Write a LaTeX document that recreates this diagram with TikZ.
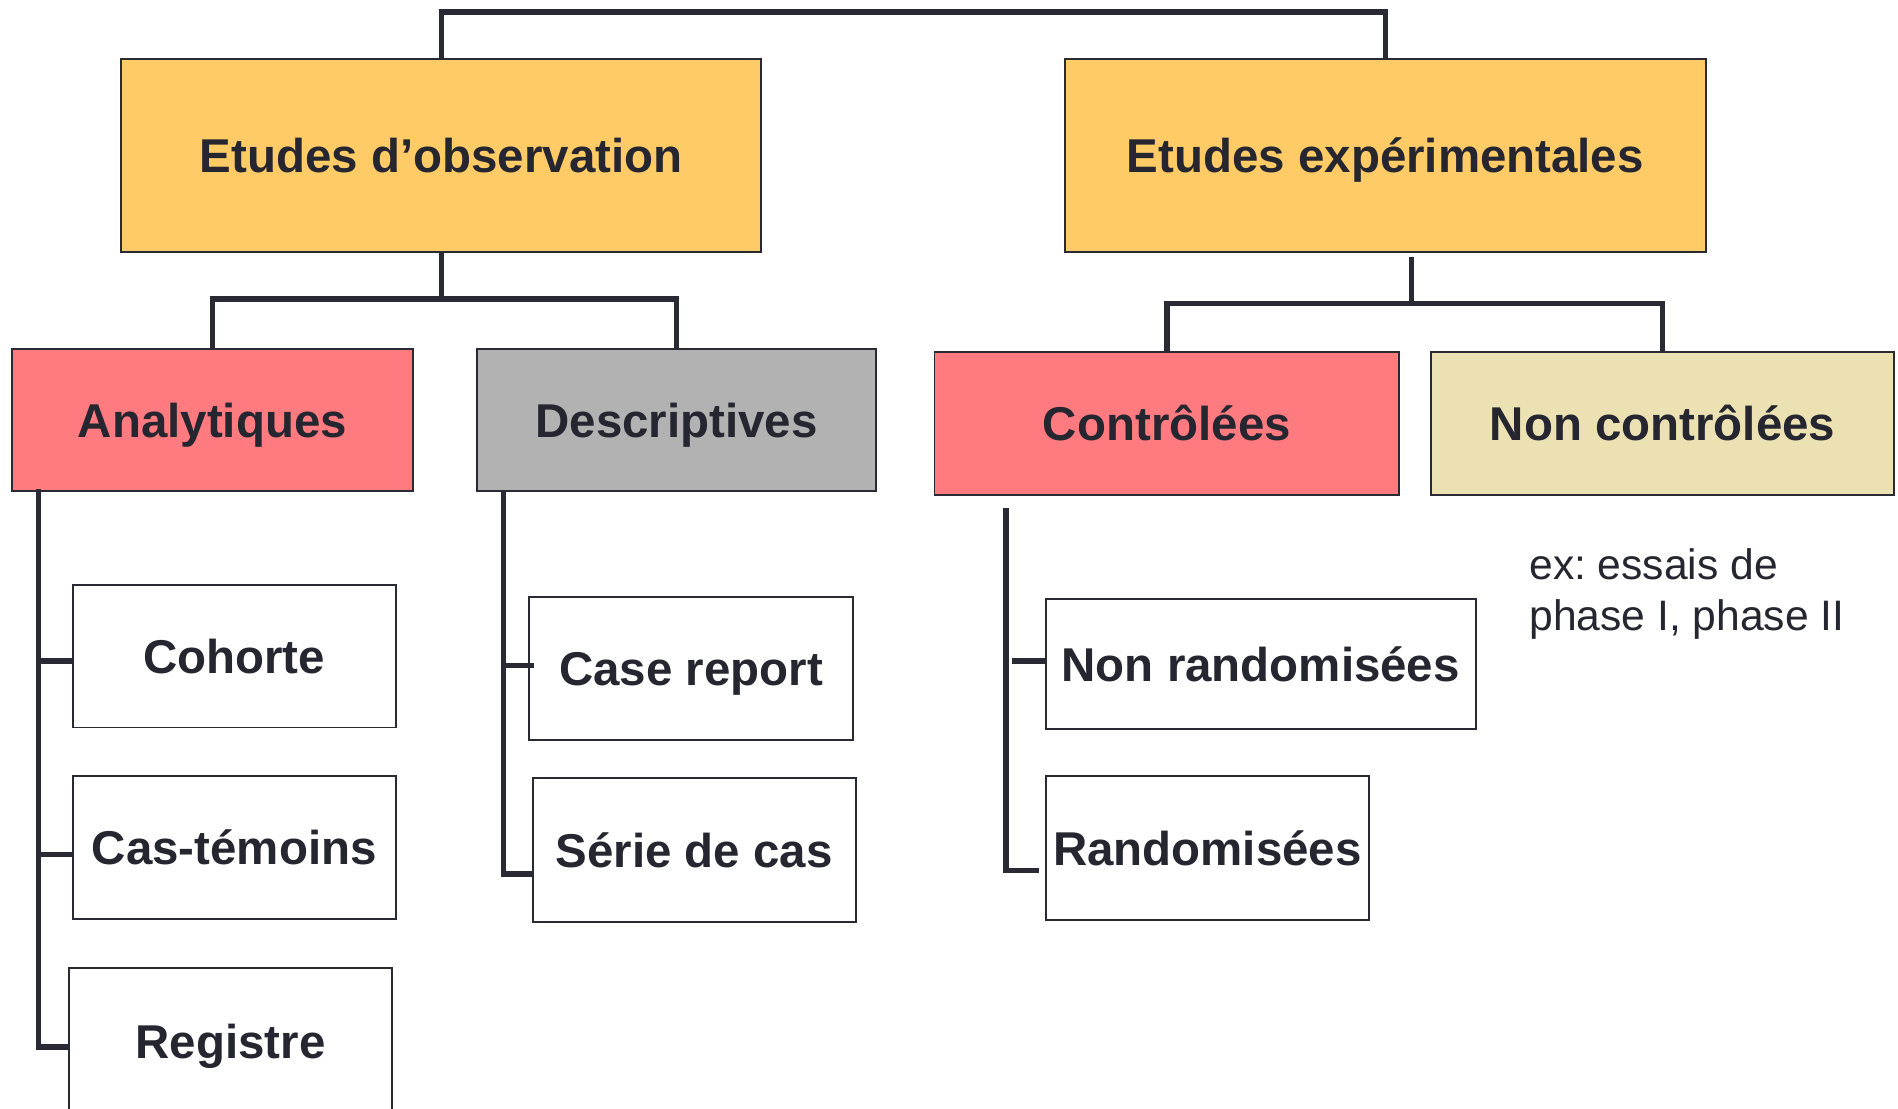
\documentclass[tikz,border=0pt]{standalone}
\usepackage{fontspec}
\setmainfont{Liberation Sans}
\usetikzlibrary{calc}
\definecolor{cyell}{HTML}{FECB66}
\definecolor{cpink}{HTML}{FF7B80}
\definecolor{cgray}{HTML}{B2B2B2}
\definecolor{cbeige}{HTML}{EBE1B2}
\definecolor{cline}{HTML}{2A2A35}
\definecolor{ctext}{HTML}{262630}
\tikzset{
  box/.style={draw=cline, line width=0.8pt, inner sep=0pt, outer sep=0pt,
    text=ctext, font=\fontsize{19.6}{23}\selectfont\bfseries, align=center,
    text height=14.2pt, text depth=0pt},
  conn/.style={draw=cline, line width=2.2pt},
  note/.style={text=ctext, font=\fontsize{17.6}{21}\selectfont\frenchspacing, align=left, anchor=north west, inner sep=0pt}
}
\begin{document}
\begin{tikzpicture}[x=0.5pt,y=-0.5pt]
\useasboundingbox[fill=white] (0,0) rectangle (1568,916);
% level 1
\node[box, fill=cyell, minimum width=264.5pt, minimum height=79.5pt] (obs) at (364.5,128.5) {Etudes d’observation};
\node[box, fill=cyell, minimum width=264.5pt, minimum height=79.5pt] (exp) at (1144.5,128.5) {Etudes expérimentales};
% level 2
\node[box, fill=cpink, minimum width=165.5pt, minimum height=59pt] (ana) at (175.5,347) {Analytiques};
\node[box, fill=cgray, minimum width=165pt, minimum height=59pt] (desc) at (559,347) {Descriptives};
\node[box, fill=cpink, minimum width=192pt, minimum height=59pt] (ctrl) at (964,350) {Contrôlées};
\node[box, fill=cbeige, minimum width=191.5pt, minimum height=59pt] (nctrl) at (1373.5,350) {Non contrôlées};
% level 3
\node[box, fill=white, minimum width=133.5pt, minimum height=59pt] (coh) at (193.5,542) {Cohorte};
\node[box, fill=white, minimum width=133.5pt, minimum height=59pt] (cas) at (193.5,700) {Cas-témoins};
\node[box, fill=white, minimum width=133.5pt, minimum height=60pt] (reg) at (190.5,860) {Registre};
\node[box, fill=white, minimum width=134pt, minimum height=59pt] (cr) at (571,552) {Case report};
\node[box, fill=white, minimum width=133.5pt, minimum height=59.5pt] (ser) at (573.5,702.5) {Série de cas};
\node[box, fill=white, minimum width=177.5pt, minimum height=53.5pt] (nr) at (1041.5,548.5) {Non randomisées};
\node[box, fill=white, minimum width=133.5pt, minimum height=59.5pt] (rd) at (997.5,700.5) {Randomisées};
% note
\node[note] (ex) at (1263,453) {ex: essais de\\phase I, phase II};
% coordinates
\coordinate (top) at (0,10);
\coordinate (j1) at (364.5,247);
\coordinate (e1) at (1166,212);
\coordinate (e2) at (1166,251);
\coordinate (a0) at (32,404);
\coordinate (d0) at (416,406);
\coordinate (c0) at (831,420);
\coordinate (ct) at (836,546);
\coordinate (tcoh) at ($(coh.west)+(0,4)$);
\coordinate (tcas) at ($(cas.west)+(0,6)$);
\coordinate (treg) at ($(reg.west)+(0,5)$);
\coordinate (tcr) at ($(cr.west)+(4,-2)$);
\coordinate (tser) at ($(ser.west)+(1,19.5)$);
\coordinate (trd) at ($(rd.west)+(-6,18.5)$);
% connectors
\draw[conn] (obs.north) -- (obs.north |- top) -| (exp.north);
\draw[conn] (obs.south) -- (j1);
\draw[conn] (ana.north) |- (j1) -| (desc.north);
\draw[conn] (e1) -- (e2);
\draw[conn] (ctrl.north) |- (e2) -| (nctrl.north);
% analytiques tree
\draw[conn] (a0) |- (treg);
\draw[conn] (a0 |- tcoh) -- (tcoh);
\draw[conn] (a0 |- tcas) -- (tcas);
% descriptives tree
\draw[conn] (d0) |- (tser);
\draw[conn] (d0 |- tcr) -- (tcr);
% controlees tree
\draw[conn] (c0) |- (trd);
\draw[conn] (ct) -- (ct -| nr.west);
\end{tikzpicture}
\end{document}
